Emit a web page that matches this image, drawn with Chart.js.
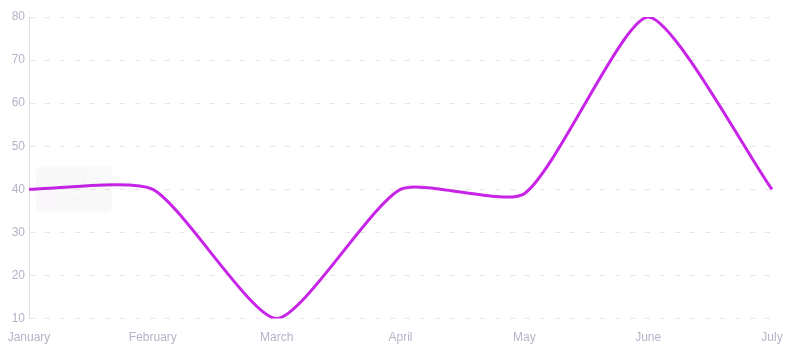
<!DOCTYPE html>
<html>
<head>
<meta charset="utf-8">
<script src="https://cdn.jsdelivr.net/npm/chart.js@4"></script>
<style>
  html, body { margin: 0; padding: 0; background: #fff; }
  #wrap { width: 793px; height: 356px; }
</style>
</head>
<body>
<div id="wrap"><canvas id="chart"></canvas></div>
<script>
const months = ["January", "February", "March", "April", "May", "June", "July"];
const values = [40, 40, 10, 40, 39, 80, 40];

const ctx = document.getElementById('chart');
const chart = new Chart(ctx, {
  type: 'line',
  data: {
    labels: months,
    datasets: [{
      label: 'Sales',
      data: values,
      borderColor: '#c724e8',
      backgroundColor: '#c724e8',
      borderWidth: 3,
      tension: 0.2,
      pointRadius: 0,
      fill: false
    }]
  },
  options: {
    responsive: true,
    maintainAspectRatio: false,
    animation: false,
    events: [],
    layout: { padding: { top: 17, right: 0, left: 0, bottom: -1 } },
    plugins: {
      legend: { display: false },
      tooltip: {
        // the reference shows a tooltip that has almost faded out
        backgroundColor: 'rgba(0,0,0,0.025)',
        titleColor: 'rgba(0,0,0,0.02)',
        bodyColor: 'rgba(0,0,0,0.02)',
        cornerRadius: 6,
        callbacks: {
          labelColor: () => ({ borderColor: 'rgba(199,36,232,0.05)', backgroundColor: 'rgba(199,36,232,0.05)' })
        }
      }
    },
    scales: {
      x: {
        grid: { display: false, drawTicks: false },
        border: { display: false },
        ticks: { color: '#b4b4c8', font: { family: 'Liberation Sans, Arial', size: 12 }, padding: 12 },
        afterFit(scale) {
          scale.paddingLeft = 29;
          scale.paddingRight = 21;
        }
      },
      y: {
        min: 10,
        max: 80,
        grid: { color: '#e6e6e6', drawTicks: false },
        border: { display: true, color: '#e0e0e0', dash: [5, 10] },
        ticks: { stepSize: 10, color: '#b4b4c8', font: { family: 'Liberation Sans, Arial', size: 12 }, padding: 4 }
      }
    }
  }
});

const meta = chart.getDatasetMeta(0);
const p = meta.data[0];
chart.tooltip.setActiveElements([{ datasetIndex: 0, index: 0 }], { x: p.x, y: p.y });
chart.update();
</script>
</body>
</html>
